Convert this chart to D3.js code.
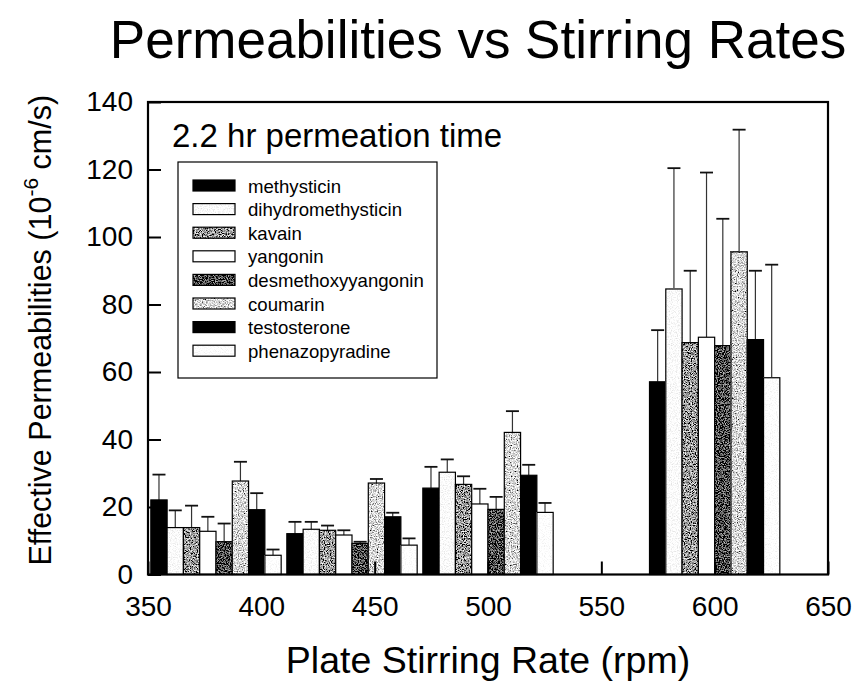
<!DOCTYPE html>
<html>
<head>
<meta charset="utf-8">
<script src="https://cdn.jsdelivr.net/npm/d3@7"></script>
<style>
  body { margin: 0; background: #fff; }
  text { font-family: "Liberation Sans", Arial, Helvetica, sans-serif; fill: #000; }
</style>
</head>
<body>
<div id="wrapper"></div>
<script>
// data
const rpms = [380, 440, 500, 600]
const compounds = ["methysticin", "dihydromethysticin", "kavain", "yangonin",
  "desmethoxyyangonin", "coumarin", "testosterone", "phenazopyradine"]

const methysticin = [22.1, 12.1, 25.6, 57.1]
const dihydromethysticin = [13.9, 13.4, 30.3, 84.6]
const kavain = [13.9, 13.1, 26.7, 68.7]
const yangonin = [12.8, 11.7, 20.9, 70.3]
const desmethoxyyangonin = [9.7, 9.2, 19.3, 67.8]
const coumarin = [27.7, 27.1, 42.1, 95.6]
const testosterone = [19.2, 17.1, 29.4, 69.6]
const phenazopyradine = [5.7, 8.7, 18.4, 58.3]

// upper error bar lengths
const methysticinErr = [7.5, 3.5, 6.3, 15.3]
const dihydromethysticinErr = [5.1, 2.2, 3.8, 35.8]
const kavainErr = [6.5, 1.4, 2.4, 21.3]
const yangoninErr = [4.3, 1.4, 4.5, 48.8]
const desmethoxyyangoninErr = [5.4, 0.5, 3.7, 37.6]
const coumarinErr = [5.7, 1.2, 6.3, 36.2]
const testosteroneErr = [4.9, 1.2, 3.1, 20.4]
const phenazopyradineErr = [1.7, 2.0, 2.8, 33.5]

const xTicks = [350, 400, 450, 500, 550, 600, 650]
const yTicks = [0, 20, 40, 60, 80, 100, 120, 140]

const means = [methysticin, dihydromethysticin, kavain, yangonin,
  desmethoxyyangonin, coumarin, testosterone, phenazopyradine]
const errs = [methysticinErr, dihydromethysticinErr, kavainErr, yangoninErr,
  desmethoxyyangoninErr, coumarinErr, testosteroneErr, phenazopyradineErr]

// flatten into bar records
const bars = []
compounds.forEach((c, i) => {
  rpms.forEach((r, j) => {
    bars.push({ compound: c, rpm: r, value: means[i][j], err: errs[i][j] })
  })
})

// dimensions
const dimensions = {
  width: 857,
  height: 681,
  margin: { top: 102, right: 29, bottom: 106.5, left: 148 }
}
dimensions.boundedWidth = dimensions.width - dimensions.margin.left - dimensions.margin.right
dimensions.boundedHeight = dimensions.height - dimensions.margin.top - dimensions.margin.bottom

const svg = d3.select("#wrapper").append("svg")
    .attr("width", dimensions.width)
    .attr("height", dimensions.height)

// grainy fills like the scanned print
const defs = svg.append("defs")
const grains = [
  { id: "g-dihydro", k: 0.7, b: 0.62, seed: 2 },
  { id: "g-kavain", k: 2.4, b: -0.85, seed: 5 },
  { id: "g-desmeth", k: 1.6, b: -0.72, seed: 8 },
  { id: "g-coumarin", k: 2.4, b: -0.5, seed: 11 },
  { id: "g-phenazo", k: 0.5, b: 0.75, seed: 14 }
]
grains.forEach(g => {
  const f = defs.append("filter")
      .attr("id", g.id)
      .attr("x", 0).attr("y", 0).attr("width", 1).attr("height", 1)
      .attr("filterUnits", "objectBoundingBox")
  f.append("feTurbulence")
      .attr("type", "fractalNoise")
      .attr("baseFrequency", 0.85)
      .attr("numOctaves", 2)
      .attr("seed", g.seed)
  f.append("feColorMatrix")
      .attr("type", "matrix")
      .attr("values", `${g.k} 0 0 0 ${g.b}  ${g.k} 0 0 0 ${g.b}  ${g.k} 0 0 0 ${g.b}  0 0 0 0 1`)
})

const fillOf = {
  methysticin: { fill: "#000", filter: null },
  dihydromethysticin: { fill: "#f2f2f2", filter: "g-dihydro" },
  kavain: { fill: "#444", filter: "g-kavain" },
  yangonin: { fill: "#fff", filter: null },
  desmethoxyyangonin: { fill: "#111", filter: "g-desmeth" },
  coumarin: { fill: "#999", filter: "g-coumarin" },
  testosterone: { fill: "#000", filter: null },
  phenazopyradine: { fill: "#fafafa", filter: "g-phenazo" }
}

const bounds = svg.append("g")
    .attr("transform", `translate(${dimensions.margin.left},${dimensions.margin.top})`)

// scales
const xScale = d3.scaleLinear()
    .domain([350, 650])
    .range([0, dimensions.boundedWidth])

const yScale = d3.scaleLinear()
    .domain([0, 140])
    .range([dimensions.boundedHeight, 0])

const groupWidth = 57.5
const inner = d3.scaleBand()
    .domain(compounds)
    .range([0, xScale(350 + groupWidth) - xScale(350)])
    .padding(0)

const barX = d => xScale(d.rpm - groupWidth / 2) + inner(d.compound)

// fill a rect-like shape, with optional grain
function drawSwatch(sel, key, x, y, w, h) {
  const f = fillOf[key]
  sel.append("rect")
      .attr("x", x).attr("y", y).attr("width", w).attr("height", h)
      .attr("fill", f.fill)
      .attr("filter", f.filter ? `url(#${f.filter})` : null)
  sel.append("rect")
      .attr("x", x).attr("y", y).attr("width", w).attr("height", h)
      .attr("fill", "none")
      .attr("stroke", "#000")
      .attr("stroke-width", 1.2)
}

// error bars (drawn under the bars so the stem starts at the top)
const capW = 13
const errG = bounds.append("g")
errG.selectAll(".stem")
  .data(bars)
  .join("line")
    .attr("x1", d => barX(d) + inner.bandwidth() / 2)
    .attr("x2", d => barX(d) + inner.bandwidth() / 2)
    .attr("y1", d => yScale(d.value))
    .attr("y2", d => yScale(d.value + d.err))
    .attr("stroke", "#333")
    .attr("stroke-width", 1.2)
errG.selectAll(".cap")
  .data(bars)
  .join("line")
    .attr("x1", d => barX(d) + inner.bandwidth() / 2 - capW / 2)
    .attr("x2", d => barX(d) + inner.bandwidth() / 2 + capW / 2)
    .attr("y1", d => yScale(d.value + d.err))
    .attr("y2", d => yScale(d.value + d.err))
    .attr("stroke", "#111")
    .attr("stroke-width", 1.8)

// bars
const barG = bounds.append("g")
bars.forEach(d => {
  drawSwatch(barG, d.compound, barX(d), yScale(d.value),
    inner.bandwidth(), yScale(0) - yScale(d.value))
})

// axes: ticks point inward
const xAxis = d3.axisBottom(xScale)
    .tickValues(xTicks)
    .tickSize(-13)
    .tickPadding(22)
const xAxisG = bounds.append("g")
    .attr("transform", `translate(0,${dimensions.boundedHeight})`)
    .call(xAxis)
xAxisG.select(".domain").remove()
xAxisG.selectAll("line").attr("stroke", "#000").attr("stroke-width", 2)
xAxisG.selectAll("text")
    .attr("font-size", 28)
    .attr("font-family", "Liberation Sans, Arial, sans-serif")

const yAxis = d3.axisLeft(yScale)
    .tickValues(yTicks)
    .tickSize(-13)
    .tickPadding(15)
const yAxisG = bounds.append("g").call(yAxis)
yAxisG.select(".domain").remove()
yAxisG.selectAll("line").attr("stroke", "#000").attr("stroke-width", 2)
yAxisG.selectAll("text")
    .attr("font-size", 28)
    .attr("font-family", "Liberation Sans, Arial, sans-serif")

// frame
bounds.append("rect")
    .attr("width", dimensions.boundedWidth)
    .attr("height", dimensions.boundedHeight)
    .attr("fill", "none")
    .attr("stroke", "#000")
    .attr("stroke-width", 2.2)

// panel note
bounds.append("text")
    .attr("x", 172 - dimensions.margin.left)
    .attr("y", 147 - dimensions.margin.top)
    .attr("font-size", 33)
    .text("2.2 hr permeation time")

// legend
const legend = svg.append("g").attr("transform", "translate(178,162)")
legend.append("rect")
    .attr("width", 259).attr("height", 216)
    .attr("fill", "#fff")
    .attr("stroke", "#000")
    .attr("stroke-width", 1.2)
compounds.forEach((c, i) => {
  const row = legend.append("g").attr("transform", `translate(0,${24 + i * 23.6})`)
  drawSwatch(row, c, 15, -6, 42, 11)
  row.append("text")
      .attr("x", 70)
      .attr("y", 0)
      .attr("dy", "0.35em")
      .attr("font-size", 18.6)
      .text(c)
})

// title and axis labels
svg.append("text")
    .attr("x", 478)
    .attr("y", 58)
    .attr("text-anchor", "middle")
    .attr("font-size", 53)
    .text("Permeabilities vs Stirring Rates")

svg.append("text")
    .attr("x", dimensions.margin.left + dimensions.boundedWidth / 2)
    .attr("y", 673)
    .attr("text-anchor", "middle")
    .attr("font-size", 37.5)
    .text("Plate Stirring Rate (rpm)")

const yLabel = svg.append("text")
    .attr("transform", `translate(51,${dimensions.margin.top + dimensions.boundedHeight / 2 - 8}) rotate(-90)`)
    .attr("text-anchor", "middle")
    .attr("font-size", 30.5)
yLabel.append("tspan").text("Effective Permeabilities (10")
yLabel.append("tspan").attr("dy", -13).attr("font-size", 21).text("-6")
yLabel.append("tspan").attr("dy", 13).text(" cm/s)")
</script>
</body>
</html>
